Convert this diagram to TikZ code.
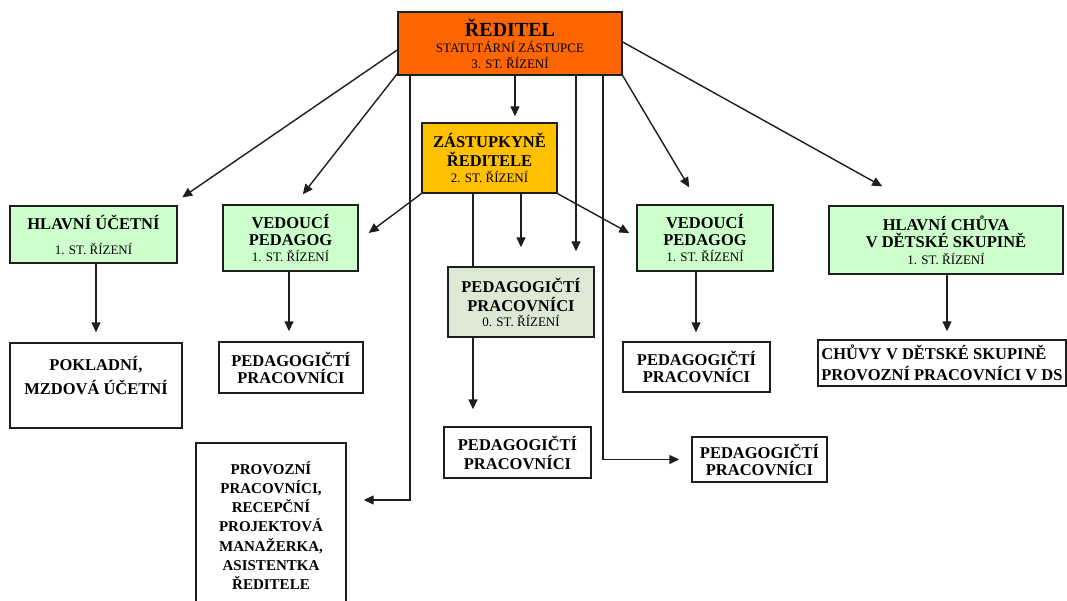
\documentclass[tikz,border=0pt]{standalone}
\usepackage{fontspec}
\setmainfont{Liberation Serif}
\usetikzlibrary{arrows.meta,calc}
\definecolor{dirc}{HTML}{FF6600}
\definecolor{zastc}{HTML}{FFC000}
\definecolor{greenc}{HTML}{CCFFCC}
\definecolor{grayg}{HTML}{DCE9D5}
\definecolor{linec}{HTML}{1E1E1E}
\newcommand\smtxt{\normalfont\fontsize{13}{14}\selectfont}
\begin{document}
\begin{tikzpicture}[x=1pt,y=-1pt,
  box/.style={draw=linec, line width=1.4pt, align=center, inner sep=0pt,
    font=\bfseries\fontsize{16.5}{17}\selectfont},
  arr/.style={draw=linec, line width=1.4pt, -{Triangle[length=10pt,width=9pt]}},
  plain/.style={draw=linec, line width=1.4pt}]
\useasboundingbox (0,0) rectangle (1067,601);
% boxes
\node[box, fill=dirc, minimum width=224pt, minimum height=63pt,
  font=\normalfont\fontsize{13}{16}\selectfont] (dir) at (510,43.5)
  {{\bfseries\fontsize{20}{20}\selectfont ŘEDITEL}\\STATUTÁRNÍ ZÁSTUPCE\\3. ST. ŘÍZENÍ};
\node[box, fill=zastc, minimum width=135pt, minimum height=70pt] (zast) at (489.5,158)
  {ZÁSTUPKYNĚ\\[2pt]ŘEDITELE\\[-1pt]{\smtxt 2. ST. ŘÍZENÍ}};
\node[box, fill=greenc, minimum width=167pt, minimum height=57pt] (hu) at (93.5,234.5)
  {HLAVNÍ ÚČETNÍ\\[8pt]{\smtxt 1. ST. ŘÍZENÍ}};
\node[box, fill=greenc, minimum width=135pt, minimum height=66pt] (vp1) at (290.5,238)
  {VEDOUCÍ\\PEDAGOG\\[-1pt]{\smtxt 1. ST. ŘÍZENÍ}};
\node[box, fill=white, minimum width=172pt, minimum height=85pt] (pok) at (96,385.5)
  {POKLADNÍ,\\[7pt]MZDOVÁ ÚČETNÍ\\[4pt]~};
\node[box, fill=white, minimum width=144pt, minimum height=51pt] (pp1) at (291,367.5)
  {PEDAGOGIČTÍ\\PRACOVNÍCI};
\node[box, fill=grayg, minimum width=146pt, minimum height=70pt] (pp0) at (521,302)
  {PEDAGOGIČTÍ\\[2pt]PRACOVNÍCI\\[-2pt]{\smtxt 0. ST. ŘÍZENÍ}};
\node[box, fill=white, minimum width=147pt, minimum height=51pt] (pp0b) at (517.5,452.5)
  {PEDAGOGIČTÍ\\[2pt]PRACOVNÍCI};
\node[box, fill=greenc, minimum width=136pt, minimum height=66pt] (vp2) at (705,238)
  {VEDOUCÍ\\PEDAGOG\\[-1pt]{\smtxt 1. ST. ŘÍZENÍ}};
\node[box, fill=white, minimum width=147pt, minimum height=50pt] (pp2) at (696.5,367)
  {PEDAGOGIČTÍ\\PRACOVNÍCI};
\node[box, fill=greenc, minimum width=234pt, minimum height=68pt] (hch) at (946,240)
  {HLAVNÍ CHŮVA\\V DĚTSKÉ SKUPINĚ\\{\smtxt 1. ST. ŘÍZENÍ}};
\node[box, fill=white, align=left, minimum width=248pt, minimum height=46pt] (chu) at (942,363)
  {CHŮVY V DĚTSKÉ SKUPINĚ\\[4pt]PROVOZNÍ PRACOVNÍCI V DS};
\node[box, fill=white, minimum width=150pt, minimum height=165pt,
  font=\bfseries\fontsize{15}{19.2}\selectfont] (prov) at (271,525.5)
  {PROVOZNÍ\\PRACOVNÍCI,\\RECEPČNÍ\\PROJEKTOVÁ\\MANAŽERKA,\\ASISTENTKA\\ŘEDITELE};
\node[box, fill=white, minimum width=135pt, minimum height=45pt] (ppr) at (759.5,459.5)
  {PEDAGOGIČTÍ\\PRACOVNÍCI};
% connectors from director
\draw[arr, shorten >=14pt] ($(dir.west)+(0,6.5)$) -- ($(hu.north east)+(-7,0)$);
\draw[arr, shorten >=12.7pt] ($(dir.south west)+(0,-2)$) -- ($(vp1.north)+(4.5,0)$);
\draw[arr, shorten >=39pt] ($(dir.east)+(0,-1.5)$) -- ($(hch.north west)+(88,0)$);
\draw[arr, shorten >=19.7pt] (dir.south east) -- ($(vp2.north west)+(63,0)$);
\draw[arr, shorten >=6pt] (dir.south -| 515,0) -- (zast.north -| 515,0);
\draw[arr, shorten >=17pt] (dir.south -| 410,0) |- (prov.east |- 0,500);
\draw[arr, shorten >=15pt] (dir.south -| 576,0) -- (pp0.north -| 576,0);
\draw[arr, shorten >=12pt] (dir.south -| 603,0) |- (ppr.west);
% connectors from deputy
\draw[arr, shorten >=12.4pt] (zast.south west) -- ($(vp1.east)+(0,2.4)$);
\draw[plain] (zast.south -| 473,0) -- (pp0.north -| 473,0);
\draw[arr, shorten >=19pt] (zast.south -| 521,0) -- (pp0.north -| 521,0);
\draw[arr, shorten >=8pt] (zast.south east) -- ($(vp2.west)+(0,-1)$);
% downward connectors
\draw[arr, shorten >=10pt] (hu.south -| 96,0) -- (pok.north -| 96,0);
\draw[arr, shorten >=10pt] (vp1.south -| 289,0) -- (pp1.north -| 289,0);
\draw[arr, shorten >=17pt] (pp0.south -| 473,0) -- (pp0b.north -| 473,0);
\draw[arr, shorten >=9pt] (vp2.south -| 696,0) -- (pp2.north -| 696,0);
\draw[arr, shorten >=8pt] (hch.south -| 947,0) -- (chu.north -| 947,0);
\end{tikzpicture}
\end{document}
